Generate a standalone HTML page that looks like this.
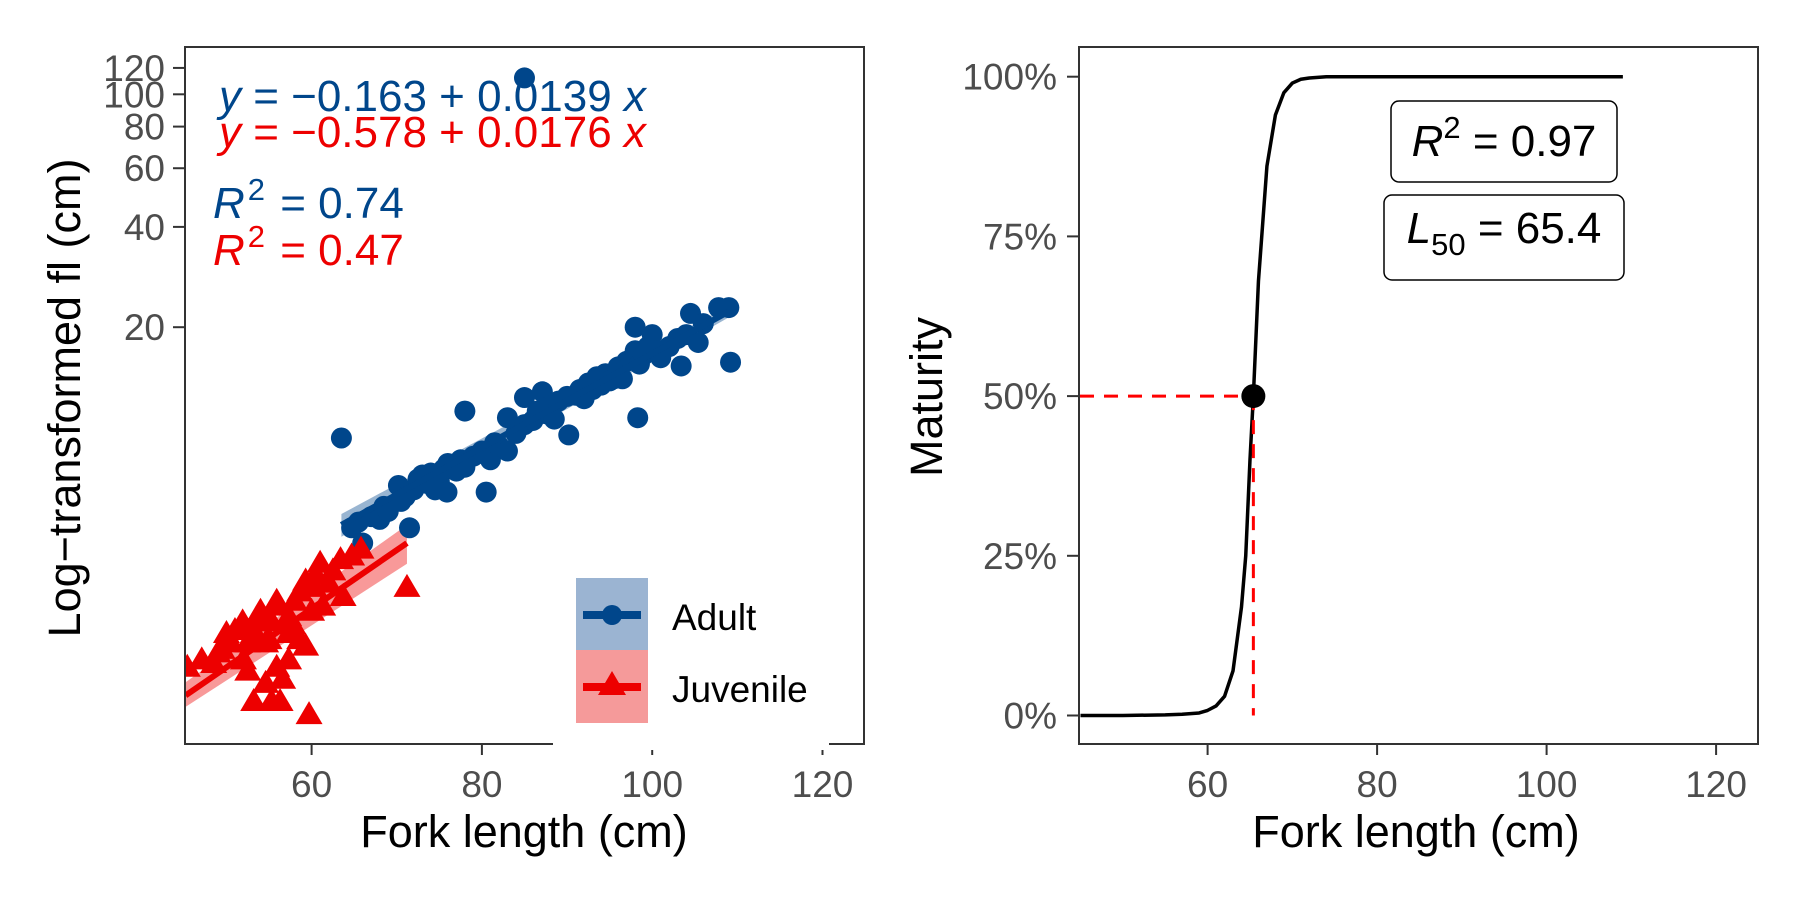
<!DOCTYPE html>
<html><head><meta charset="utf-8"><style>
html,body{margin:0;padding:0;background:#fff}
svg{display:block;font-family:"Liberation Sans",Arial,sans-serif}
</style></head><body>
<svg id="fig" width="1800" height="900" viewBox="0 0 1800 900" xmlns="http://www.w3.org/2000/svg">
<g id="left"></g>
<g id="right"></g>
</svg>
<script>
// ---- Left panel data ----
const adultFork = [64.7,66,65.5,67,68,68.5,69,70.2,70.5,71.5,71,72,72.5,73,73.5,74,74.5,75,75.9,75.5,76,77,77.5,78,78,79,80,80.5,81,81.5,82,83,83,84,85,85,86,86.5,87.1,87.5,88,88.5,89,90.2,90,91,91.5,92,92.5,93,93.5,94,94.5,95,95.5,96,96.5,97,97.5,98,98,98.3,98.5,99,99.5,100,100.5,101,102,103,103.4,104,104.5,105.4,106,107.8,109,109.2,63.5,85];
const adultVal  = [5.0,4.5,5.2,5.4,5.3,5.8,5.6,6.7,6.0,5.0,6.2,6.5,7.0,7.2,6.8,7.3,6.5,6.9,6.4,7.5,7.8,7.4,8.0,7.6,11.2,8.2,8.5,6.4,8.0,9.0,8.8,10.7,8.5,9.6,12.3,10.2,10.5,11.2,12.8,11.0,11.6,10.6,12.0,9.5,12.4,12.5,13.0,12.2,13.6,13.0,14.2,13.4,14.5,13.8,14.0,15.2,14.0,15.8,16.0,17.0,20,10.7,15.5,16.5,17.5,19,17.0,16.2,17.5,18.5,15.3,19.0,22,18,20.5,22.9,22.9,15.7,9.3,112];
const juvFork = [71.2,59.7,53.2,55.3,56.3,52.5,54.6,56.6,57.3,59.3,45.4,47.1,48.5,50.5,51.9,53.9,55.9,58.6,61,63.4,62,63.7,60,57.3,54.6,52.5,49.5,61.3,64.7,65.8,58.6,55.9,60.3,59.3,53.2,55.3,57.3,50,51,53,54,56,58,60.5,62.5,49,52,55,57.8];
const juvVal  = [3.3,1.37,1.5,1.5,1.5,1.85,1.7,1.75,2.0,2.2,1.9,2.0,1.95,2.25,2.6,2.65,3.0,3.2,3.9,4.0,3.4,3.1,2.8,2.4,2.25,2.25,2.15,2.9,4.1,4.3,2.3,1.9,3.3,3.45,2.35,2.6,2.7,2.4,2.45,2.5,2.8,2.9,3.0,3.6,3.7,2.1,2.0,2.3,2.55];
const adultFitX = [63.5,109];
const adultFitY = [5.1,22.3];
const adultBandLo = [4.7,21.4];
const adultBandHi = [5.5,23.2];
const juvFitX = [45.2,71.2];
const juvFitY = [1.57,4.5];
const juvBandLo = [1.45,3.9];
const juvBandHi = [1.72,5.1];
const leftXTicks = [60,80,100,120];
const leftYTicks = [20,40,60,80,100,120];

// ---- Right panel data ----
const curveX = [45,50,55,57,59,60,61,62,63,64,64.5,65,65.4,66,66.5,67,68,69,70,71,72,74,76,80,90,100,109];
const curveP = [0,0,0.001,0.002,0.004,0.008,0.015,0.03,0.07,0.17,0.25,0.4,0.5,0.68,0.77,0.86,0.94,0.975,0.99,0.996,0.998,1,1,1,1,1,1];
const L50 = [65.4];
const rightXTicks = [60,80,100,120];
const rightYTicks = [0,0.25,0.5,0.75,1];
const rightYLabels = ["0%","25%","50%","75%","100%"];

const NS="http://www.w3.org/2000/svg";
function mk(parent,tag,attrs,text){const e=document.createElementNS(NS,tag);for(const k in attrs)e.setAttribute(k,attrs[k]);if(text!==undefined)e.textContent=text;parent.appendChild(e);return e;}
const BLUE="#00468B",RED="#ED0000",AX="#333333",TK="#4D4D4D";

// Left scales
const lx = v => 311.6 + (v-60)*8.515;
const ly = v => 327.2 - 100.3*Math.log2(v/20);
const L = document.getElementById('left');
function band(xs,lo,hi,col,name){const pts=`${lx(xs[0])},${ly(lo[0])} ${lx(xs[1])},${ly(lo[1])} ${lx(xs[1])},${ly(hi[1])} ${lx(xs[0])},${ly(hi[0])}`;
 const p=mk(L,'polygon',{points:pts,fill:col,'fill-opacity':0.4});
 
 }
band(adultFitX,adultBandLo,adultBandHi,BLUE,'adult-confidence-band');
band(juvFitX,juvBandLo,juvBandHi,RED,'juvenile-confidence-band');
adultFork.forEach((f,i)=>{const c=mk(L,'circle',{cx:lx(f),cy:ly(adultVal[i]),r:10.5,fill:BLUE});
 
 });
juvFork.forEach((f,i)=>{const x=lx(f),y=ly(juvVal[i]);const t=mk(L,'polygon',{points:`${x},${y-14} ${x-13.5},${y+9} ${x+13.5},${y+9}`,fill:RED});
 
 });
const al=mk(L,'line',{x1:lx(adultFitX[0]),y1:ly(adultFitY[0]),x2:lx(adultFitX[1]),y2:ly(adultFitY[1]),stroke:BLUE,'stroke-width':6});


const jl=mk(L,'line',{x1:lx(juvFitX[0]),y1:ly(juvFitY[0]),x2:lx(juvFitX[1]),y2:ly(juvFitY[1]),stroke:RED,'stroke-width':6});


mk(L,'rect',{x:0,y:0,width:184,height:900,fill:'#fff'});
const lb=mk(L,'rect',{x:185,y:47,width:679,height:697,fill:'none',stroke:AX,'stroke-width':2});


leftXTicks.forEach(t=>{mk(L,'line',{x1:lx(t),y1:744,x2:lx(t),y2:755,stroke:AX,'stroke-width':2});
 const tx=mk(L,'text',{x:lx(t),y:797,'text-anchor':'middle','font-size':37,fill:TK},String(t));
 
 });
leftYTicks.forEach(t=>{mk(L,'line',{x1:173,y1:ly(t),x2:185,y2:ly(t),stroke:AX,'stroke-width':2});
 const tx=mk(L,'text',{x:165,y:ly(t)+13,'text-anchor':'end','font-size':37,fill:TK},String(t));
 
 });
const lg=mk(L,'g',{});


mk(lg,'rect',{x:553,y:560,width:276,height:190,fill:'#fff'});
mk(lg,'rect',{x:576,y:578,width:72,height:72,fill:'#9BB4D2'});
mk(lg,'rect',{x:576,y:650,width:72,height:73,fill:'#F59A9A'});
mk(lg,'line',{x1:583,y1:615,x2:641,y2:615,stroke:BLUE,'stroke-width':8});
mk(lg,'circle',{cx:612,cy:615,r:10,fill:BLUE});
mk(lg,'line',{x1:583,y1:687,x2:641,y2:687,stroke:RED,'stroke-width':8});
mk(lg,'polygon',{points:'612,671 598,695 626,695',fill:RED});
const le1=mk(lg,'text',{x:672,y:630,'font-size':37,fill:'#000'},'Adult');


const le2=mk(lg,'text',{x:672,y:702,'font-size':37,fill:'#000'},'Juvenile');


function eq(y,col,parts,name){const t=mk(L,'text',{x:219,y:y,'font-size':44,fill:col});
 
 
 t.innerHTML=parts;}
eq(111,BLUE,'<tspan font-style="italic">y</tspan> = −0.163 + 0.0139 <tspan font-style="italic">x</tspan>','adult-equation');
eq(147,RED,'<tspan font-style="italic">y</tspan> = −0.578 + 0.0176 <tspan font-style="italic">x</tspan>','juvenile-equation');
function r2(y,col,val,name){const t=mk(L,'text',{x:213,y:y,'font-size':44,fill:col});
 
 
 t.innerHTML='<tspan font-style="italic">R</tspan><tspan font-size="31" dy="-18" dx="3">2</tspan><tspan dy="18" dx="3"> = '+val+'</tspan>';}
r2(218,BLUE,'0.74','adult-r-squared');
r2(265,RED,'0.47','juvenile-r-squared');
const xt=mk(L,'text',{x:524,y:847,'text-anchor':'middle','font-size':45,fill:'#000'},'Fork length (cm)');


const yt=mk(L,'text',{x:0,y:0,'text-anchor':'middle','font-size':45,fill:'#000',transform:'translate(80,398) rotate(-90)'},'Log−transformed fl (cm)');



// Right panel
const rx = v => 1207.6 + (v-60)*8.475;
const ry = p => 715.5 - p*638.8;
const R = document.getElementById('right');
const rb=mk(R,'rect',{x:1079,y:47,width:679,height:697,fill:'none',stroke:AX,'stroke-width':2});


rightXTicks.forEach(t=>{mk(R,'line',{x1:rx(t),y1:744,x2:rx(t),y2:755,stroke:AX,'stroke-width':2});
 const tx=mk(R,'text',{x:rx(t),y:797,'text-anchor':'middle','font-size':37,fill:TK},String(t));
 
 });
rightYTicks.forEach((t,i)=>{mk(R,'line',{x1:1067,y1:ry(t),x2:1079,y2:ry(t),stroke:AX,'stroke-width':2});
 const tx=mk(R,'text',{x:1057,y:ry(t)+13,'text-anchor':'end','font-size':37,fill:TK},rightYLabels[i]);
 
 });
let d='';curveX.forEach((x,i)=>{const px=Math.max(rx(x),1080);d+=(i?'L':'M')+px+','+ry(curveP[i]);});
const cv=mk(R,'path',{d:d,fill:'none',stroke:'#000','stroke-width':3.5,'stroke-linejoin':'round'});


const hx=mk(R,'line',{x1:1080,y1:ry(0.5),x2:rx(L50[0]),y2:ry(0.5),stroke:'#FF0000','stroke-width':3,'stroke-dasharray':'14 10'});


const vx=mk(R,'line',{x1:rx(L50[0]),y1:ry(0.5),x2:rx(L50[0]),y2:ry(0),stroke:'#FF0000','stroke-width':3,'stroke-dasharray':'14 10'});


const pt=mk(R,'circle',{cx:rx(L50[0]),cy:ry(0.5),r:12,fill:'#000'});


const b1=mk(R,'rect',{x:1391,y:101,width:226,height:81,rx:8,fill:'#fff',stroke:'#000','stroke-width':1.5});


const t1=mk(R,'text',{x:1504,y:156,'text-anchor':'middle','font-size':44,fill:'#000'});
t1.innerHTML='<tspan font-style="italic">R</tspan><tspan font-size="31" dy="-18">2</tspan><tspan dy="18"> = 0.97</tspan>';


const b2=mk(R,'rect',{x:1384,y:195,width:240,height:85,rx:8,fill:'#fff',stroke:'#000','stroke-width':1.5});


const t2=mk(R,'text',{x:1504,y:243,'text-anchor':'middle','font-size':44,fill:'#000'});
t2.innerHTML='<tspan font-style="italic">L</tspan><tspan font-size="31" dy="12">50</tspan><tspan dy="-12"> = 65.4</tspan>';


const xt2=mk(R,'text',{x:1416,y:847,'text-anchor':'middle','font-size':45,fill:'#000'},'Fork length (cm)');


const yt2=mk(R,'text',{x:0,y:0,'text-anchor':'middle','font-size':45,fill:'#000',transform:'translate(942,397) rotate(-90)'},'Maturity');


</script>
</body></html>
